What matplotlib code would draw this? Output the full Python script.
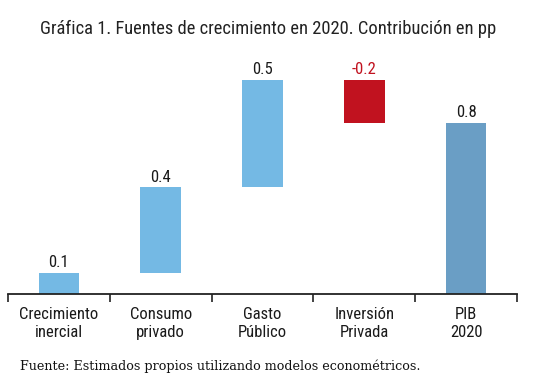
import numpy as np
import matplotlib.pyplot as plt
from matplotlib import font_manager

categorias = ["Crecimiento\ninercial", "Consumo\nprivado", "Gasto\nPúblico", "Inversión\nPrivada", "PIB\n2020"]
contribucion = [0.1, 0.4, 0.5, -0.2]
total = 0.8
etiquetas = ["0.1", "0.4", "0.5", "-0.2", "0.8"]

azul = "#74b9e4"
rojo = "#c1121f"
azul_total = "#6a9ec5"

nombres = {f.name for f in font_manager.fontManager.ttflist}
fuente = "DejaVu Sans"
for f in ["Roboto Condensed", "Liberation Sans Narrow", "Open Sans Condensed", "DejaVu Sans"]:
    if f in nombres:
        fuente = f
        break

fig = plt.figure(figsize=(5.34, 3.83), dpi=100)
ax = fig.add_axes([0.015, 0.232, 0.953, 0.615])

x = np.arange(len(categorias)) + 0.5
acum = np.concatenate([[0], np.cumsum(contribucion)[:-1]])
alturas = list(contribucion) + [total]
bases = list(acum) + [0]
colores = [azul if v >= 0 else rojo for v in contribucion] + [azul_total]

ax.bar(x, alturas, bottom=bases, width=0.4, color=colores)

for i, (b, h) in enumerate(zip(bases, alturas)):
    tope = max(b, b + h)
    col = rojo if h < 0 else "#1a1a1a"
    ax.text(x[i], tope + 0.012, etiquetas[i], ha="center", va="bottom",
            fontsize=12, color=col, family=fuente, stretch="condensed")

ax.set_xlim(0, len(categorias))
ax.set_ylim(0, 1.1)
ax.set_yticks([])
ax.set_xticks(np.arange(len(categorias) + 1))
ax.set_xticklabels([])
ax.set_xticks(x, minor=True)
ax.set_xticklabels(categorias, minor=True, fontsize=12, family=fuente,
                   stretch="condensed", color="#1a1a1a", linespacing=1.3)
ax.tick_params(axis="x", which="minor", length=0, pad=9)
ax.tick_params(axis="x", which="major", length=6, width=1.2, color="#222222")
for s in ["top", "right", "left"]:
    ax.spines[s].set_visible(False)
ax.spines["bottom"].set_linewidth(1.3)
ax.spines["bottom"].set_color("#222222")

titulo = fig.text(0.502, 0.925, "Gráfica 1. Fuentes de crecimiento en 2020. Contribución en pp",
                  ha="center", va="center", fontsize=14, family=fuente,
                  stretch="condensed", color="#222222")
fuente_txt = fig.text(0.037, 0.043, "Fuente: Estimados propios utilizando modelos econométricos.",
                      ha="left", va="center", fontsize=10, family="DejaVu Serif", color="#111111")

# ajustar tamaños para que el ancho coincida con la referencia
fig.canvas.draw()
r = fig.canvas.get_renderer()
for t, ancho in [(titulo, 457), (fuente_txt, 403)]:
    w = t.get_window_extent(r).width
    t.set_fontsize(t.get_fontsize() * ancho / w)

fig.savefig("out.png", dpi=100)
